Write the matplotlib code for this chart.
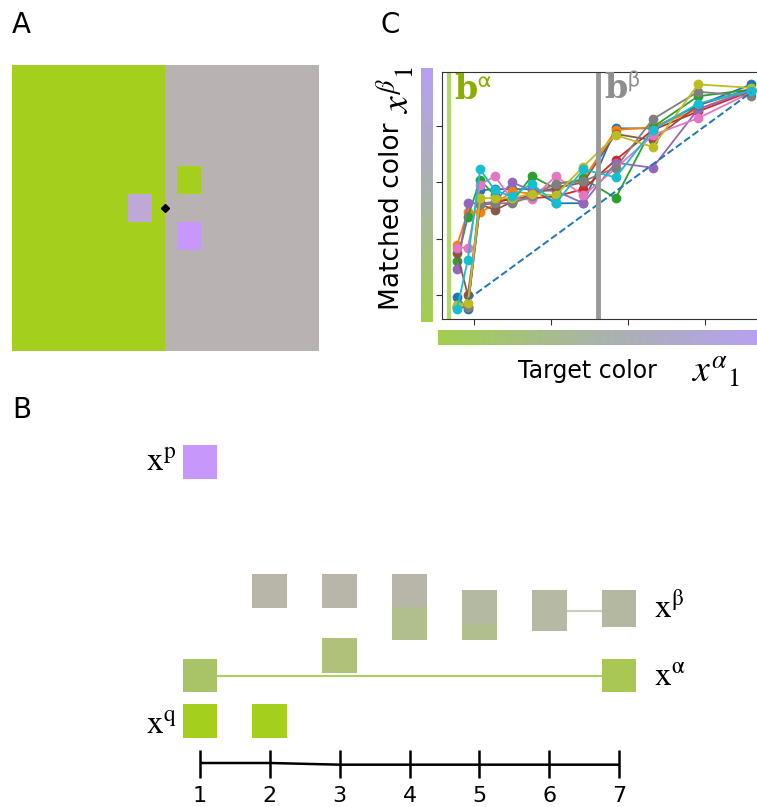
import numpy as np
import matplotlib.pyplot as plt
from matplotlib.colors import LinearSegmentedColormap

W, H = 757, 807
fig = plt.figure(figsize=(W / 100, H / 100), dpi=100)


def px_axes(x0, y0, w, h):
    # axes placed by pixel box, origin top-left
    return fig.add_axes([x0 / W, 1 - (y0 + h) / H, w / W, h / H])


# ---------------- data ----------------
# panel A: stimulus, units relative to fixation point
a_field_x = [-153, 0, 154]
a_field_y = [-143, 143]
a_field_colors = ['#a4d01d', '#b8b2b2']
a_sq_cx = [24, -25, 24]
a_sq_cy = [28, 0, -28]
a_sq_colors = ['#a4d01d', '#bfa7d6', '#c897fb']

# panel B: squares per step
b_steps = [1, 2, 3, 4, 5, 6, 7]
b_p_x = [1]
b_p_bot, b_p_top = [4.07], [4.55]
b_beta_x = [2, 3, 4, 5, 6, 7]
b_beta_bot = [2.22, 2.22, 2.23, 1.99, 1.89, 1.95]
b_beta_top = [2.71, 2.71, 2.71, 2.48, 2.48, 2.48]
b_beta_colors = ['#b7b6a8', '#b7b6a8', '#b7b6a8', '#b4b9a2', '#b6b9a3', '#b5b8a1']
b_ext_x = [4, 5]
b_ext_bot = [1.76, 1.76]
b_ext_top = [2.23, 1.99]
b_alpha_x = [1, 3, 7]
b_alpha_bot = [1.02, 1.29, 1.02]
b_alpha_top = [1.49, 1.79, 1.49]
b_alpha_colors = ['#a9c466', '#b0c27a', '#a9c755']
b_q_x = [1, 2]
b_q_bot, b_q_top = [0.36, 0.36], [0.84, 0.84]
b_alpha_line_x, b_alpha_line_y = [1, 7], [1.245, 1.245]
b_beta_line_x, b_beta_line_y = [6, 7], [2.18, 2.18]
b_axis_y = [0, 0, -0.024, -0.024, -0.024, -0.024, -0.024]

# panel C: matching data
target = [0.78, 0.92, 1.08, 1.27, 1.49, 1.75, 2.06, 2.42, 2.84, 3.32, 3.91, 4.60]
matched = {
    'C0': [0.96, 0.75, 2.86, 2.88, 2.88, 2.88, 2.63, 2.63, 3.96, 3.96, 4.37, 4.74],
    'C1': [1.89, 2.47, 2.47, 2.61, 2.84, 2.80, 2.98, 3.05, 3.93, 3.98, 4.30, 4.65],
    'C2': [1.60, 2.39, 3.04, 2.77, 2.65, 3.11, 2.89, 3.07, 2.72, 3.98, 4.53, 4.65],
    'C3': [0.79, 0.79, 2.61, 2.63, 2.72, 2.72, 2.75, 2.88, 3.40, 3.93, 4.26, 4.62],
    'C4': [1.46, 2.63, 2.63, 2.65, 3.00, 2.86, 2.85, 2.63, 3.35, 3.26, 4.30, 4.64],
    'C5': [1.74, 1.00, 2.61, 2.51, 2.65, 2.80, 2.90, 3.00, 3.86, 3.75, 4.37, 4.66],
    'C6': [1.84, 1.84, 2.96, 3.11, 2.70, 2.70, 3.11, 2.77, 3.25, 3.84, 4.14, 4.60],
    'C7': [0.79, 0.79, 2.61, 2.63, 2.63, 2.75, 2.98, 3.02, 3.26, 4.12, 4.61, 4.53],
    'C8': [0.82, 0.86, 2.72, 2.72, 2.72, 2.80, 2.77, 3.28, 3.84, 3.63, 4.74, 4.68],
    'C9': [0.75, 1.63, 3.23, 2.86, 2.75, 2.98, 2.63, 3.23, 3.09, 3.93, 4.40, 4.63],
}
diag = [0.92, 4.60]
b_alpha_bound = 0.675
b_beta_bound = 2.61
c_ticks = [1, 2, 3, 4]

# ---------------- panel A ----------------
axA = px_axes(12, 65, 307, 286)
for i in range(2):
    axA.fill_between([a_field_x[i], a_field_x[i + 1]], a_field_y[0], a_field_y[1],
                     color=a_field_colors[i], lw=0)
axA.bar(a_sq_cx, 28, bottom=np.array(a_sq_cy) - 14, width=24, color=a_sq_colors, lw=0)
axA.plot([0], [0], 'kD', ms=4)
axA.set_xlim(a_field_x[0], a_field_x[-1])
axA.set_ylim(a_field_y[0], a_field_y[1])
axA.axis('off')

# ---------------- panel B ----------------
ppu = (619 - 200) / 6
axB = px_axes(130, 430, 627, 377)
axB.set_xlim(1 - 70 / ppu, 7 + 138 / ppu)
axB.set_ylim(-44 / ppu, 333 / ppu)
axB.axis('off')
axB.plot(b_alpha_line_x, b_alpha_line_y, color='#a8d060', lw=1.5, zorder=1)
axB.plot(b_beta_line_x, b_beta_line_y, color='#c9ccba', lw=1.5, zorder=1)
w = 0.5
axB.bar(b_p_x, np.subtract(b_p_top, b_p_bot), bottom=b_p_bot, width=w, color='#c897fb', zorder=2)
axB.bar(b_beta_x, np.subtract(b_beta_top, b_beta_bot), bottom=b_beta_bot, width=w,
        color=b_beta_colors, zorder=2)
axB.bar(b_ext_x, np.subtract(b_ext_top, b_ext_bot), bottom=b_ext_bot, width=w,
        color='#b1bf8c', zorder=2)
axB.bar(b_alpha_x, np.subtract(b_alpha_top, b_alpha_bot), bottom=b_alpha_bot, width=w,
        color=b_alpha_colors, zorder=2)
axB.bar(b_q_x, np.subtract(b_q_top, b_q_bot), bottom=b_q_bot, width=w, color='#a4d01d', zorder=2)

axB.plot(b_steps, b_axis_y, color='k', lw=1.8, solid_capstyle='butt')
for s in b_steps:
    axB.plot([s, s], [0.19, -0.21], color='k', lw=1.8, solid_capstyle='butt')
    axB.text(s, -0.47, str(s), ha='center', va='center', fontsize=16)

lab = dict(fontsize=24, math_fontfamily='stix', va='center')
axB.text(0.66, 4.33, r'$\mathrm{x}^{\mathrm{p}}$', ha='right', **lab)
axB.text(0.66, 0.56, r'$\mathrm{x}^{\mathrm{q}}$', ha='right', **lab)
axB.text(7.5, 1.24, r'$\mathrm{x}^{\mathrm{\alpha}}$', ha='left', **lab)
axB.text(7.5, 2.22, r'$\mathrm{x}^{\mathrm{\beta}}$', ha='left', **lab)

# ---------------- panel C ----------------
axC = px_axes(442, 72, 318, 247)
for col, vals in matched.items():
    axC.plot(target, vals, '-o', color=col, lw=1.3, ms=6)
axC.plot(diag, diag, '--', color='C0', lw=1.4)
axC.axvline(b_alpha_bound, color='#b0d86a', lw=3)
axC.axvline(b_beta_bound, color='#999999', lw=3.5)
axC.set_xlim(1 - 32 / 77, 1 + 318 / 77 - 32 / 77)
axC.set_ylim(1 - 24 / 56.3, 1 + 223 / 56.3)
axC.set_xticks(c_ticks)
axC.set_yticks(c_ticks)
axC.tick_params(labelbottom=False, labelleft=False, length=4, color='#333333')
for sp in axC.spines.values():
    sp.set_color('#333333')
bkw = dict(transform=axC.transAxes, fontsize=24, fontweight='bold', family='DejaVu Serif',
           math_fontfamily='stixsans', va='top', ha='left')
axC.text(0.038, 0.995, r'b$^{\mathrm{\alpha}}$', color='#8aae00', **bkw)
axC.text(0.508, 0.995, r'b$^{\mathrm{\beta}}$', color='#8e8e8e', **bkw)

cmap = LinearSegmentedColormap.from_list('gp', ['#9ccd45', '#a6b0a6', '#b39bf2'])
grad = np.linspace(0, 1, 256)
axV = px_axes(421, 68, 12, 254)
axV.imshow(grad[::-1, None], aspect='auto', cmap=cmap, alpha=0.95)
axV.axis('off')
axH = px_axes(438, 330, 322, 15)
axH.imshow(grad[None, :], aspect='auto', cmap=cmap, alpha=0.95)
axH.axis('off')

fig.text(392 / W, 1 - 216 / H, 'Matched color', rotation=90, fontsize=19,
         ha='center', va='center')
fig.text(396 / W, 1 - 90 / H, r'$x^{\beta}{}_{\mathit{1}}$', rotation=90, fontsize=27,
         math_fontfamily='stix', ha='center', va='center')
fig.text(587 / W, 1 - 371 / H, 'Target color', fontsize=17, ha='center', va='center')
fig.text(716 / W, 1 - 372 / H, r'$x^{\alpha}{}_{\mathit{1}}$', fontsize=27,
         math_fontfamily='stix', ha='center', va='center')

# panel letters
fig.text(12 / W, 1 - 25 / H, 'A', fontsize=20, va='center')
fig.text(12 / W, 1 - 410 / H, 'B', fontsize=20, va='center')
fig.text(380 / W, 1 - 25 / H, 'C', fontsize=20, va='center')

fig.savefig('out.png', dpi=100)
